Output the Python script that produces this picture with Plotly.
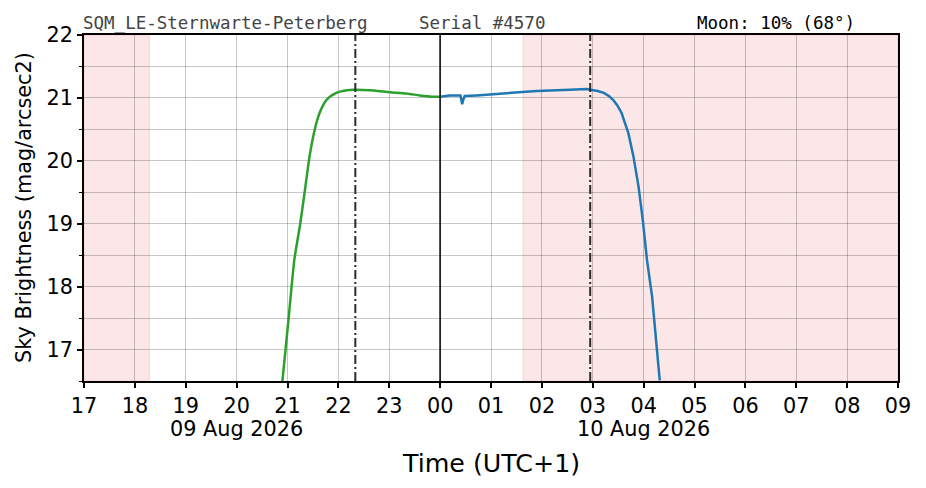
import plotly.graph_objects as go

# ---- data ----
green_time = ["2026-08-09 20:54", "2026-08-09 21:01", "2026-08-09 21:08", "2026-08-09 21:15",
              "2026-08-09 21:20", "2026-08-09 21:26", "2026-08-09 21:32", "2026-08-09 21:36",
              "2026-08-09 21:40", "2026-08-09 21:45", "2026-08-09 21:50", "2026-08-09 21:56",
              "2026-08-09 22:02", "2026-08-09 22:10", "2026-08-09 22:17", "2026-08-09 22:20",
              "2026-08-09 22:37", "2026-08-09 23:01", "2026-08-09 23:20", "2026-08-09 23:36",
              "2026-08-09 23:50", "2026-08-10 00:00"]
green_mag = [16.50, 17.45, 18.42, 19.00, 19.48, 20.07, 20.49, 20.69,
             20.83, 20.95, 21.02, 21.07, 21.10, 21.12, 21.13, 21.13,
             21.12, 21.09, 21.07, 21.04, 21.02, 21.02]

blue_time = ["2026-08-10 00:00", "2026-08-10 00:11", "2026-08-10 00:24", "2026-08-10 00:25",
             "2026-08-10 00:26", "2026-08-10 00:27", "2026-08-10 00:29", "2026-08-10 00:43",
             "2026-08-10 01:14", "2026-08-10 01:54", "2026-08-10 02:33", "2026-08-10 02:53",
             "2026-08-10 02:57", "2026-08-10 03:06", "2026-08-10 03:13", "2026-08-10 03:19",
             "2026-08-10 03:24", "2026-08-10 03:29", "2026-08-10 03:34", "2026-08-10 03:42",
             "2026-08-10 03:48", "2026-08-10 03:54", "2026-08-10 03:59", "2026-08-10 04:04",
             "2026-08-10 04:10", "2026-08-10 04:14", "2026-08-10 04:19"]
blue_mag = [21.02, 21.04, 21.04, 20.95, 20.90, 20.96, 21.03, 21.04,
            21.07, 21.11, 21.13, 21.14, 21.13, 21.11, 21.08, 21.03,
            20.97, 20.88, 20.76, 20.44, 20.07, 19.59, 19.06, 18.42,
            17.84, 17.26, 16.51]

daylight_spans = [("2026-08-09 17:00", "2026-08-09 18:17"),
                  ("2026-08-10 01:38", "2026-08-10 09:00")]
twilight_lines = ["2026-08-09 22:20", "2026-08-10 02:57"]
midnight = "2026-08-10 00:00"

hour_vals = ["2026-08-09 %02d:00" % h for h in range(17, 24)] + \
            ["2026-08-10 %02d:00" % h for h in range(0, 10)]
hour_text = ["%02d" % h for h in range(17, 24)] + ["%02d" % h for h in range(0, 10)]
date_labels = [("2026-08-09 20:00", "09 Aug 2026"), ("2026-08-10 04:00", "10 Aug 2026")]

x_range = ["2026-08-09 17:00", "2026-08-10 09:00"]
y_range = [16.5, 22]

header_station = "SQM_LE-Sternwarte-Peterberg"
header_serial = "Serial #4570"
header_moon = "Moon: 10% (68°)"

# ---- figure ----
fig = go.Figure()

shapes = []
for a, b in daylight_spans:
    shapes.append(dict(type="rect", xref="x", yref="paper", x0=a, x1=b, y0=0, y1=1,
                       fillcolor="rgba(240,160,160,0.25)",
                       line=dict(color="rgba(240,150,150,0.35)", width=1), layer="below"))
for t in twilight_lines:
    shapes.append(dict(type="line", xref="x", yref="paper", x0=t, x1=t, y0=0, y1=1,
                       line=dict(color="#2b2b2b", width=2, dash="9px,3px,2px,3px")))
shapes.append(dict(type="line", xref="x", yref="paper", x0=midnight, x1=midnight, y0=0, y1=1,
                   line=dict(color="#222222", width=1.8)))

fig.add_trace(go.Scatter(x=green_time, y=green_mag, mode="lines",
                         line=dict(color="#2ca02c", width=2.5, shape="spline", smoothing=0.5),
                         showlegend=False))
fig.add_trace(go.Scatter(x=blue_time, y=blue_mag, mode="lines",
                         line=dict(color="#1f77b4", width=2.5), showlegend=False))

FS = 20.8
annotations = []
for xv, txt in date_labels:
    annotations.append(dict(x=xv, xref="x", y=-0.139, yref="paper", text=txt, showarrow=False,
                            xanchor="center", yanchor="middle",
                            font=dict(family="DejaVu Sans", size=FS, color="black")))
annotations.append(dict(x=0.5, xref="paper", y=-0.237, yref="paper", text="Time (UTC+1)",
                        showarrow=False, xanchor="center", yanchor="middle",
                        font=dict(family="DejaVu Sans", size=25.3, color="black")))
annotations.append(dict(x=-0.0737, xref="paper", y=0.5, yref="paper",
                        text="Sky Brightness (mag/arcsec2)", textangle=-90, showarrow=False,
                        xanchor="center", yanchor="middle",
                        font=dict(family="DejaVu Sans", size=FS, color="black")))
mono = dict(family="DejaVu Sans Mono", size=17.5)
hy = 0.999
annotations.append(dict(x=(81 - 84) / 814, xref="paper", y=hy, yref="paper", text=header_station,
                        showarrow=False, xanchor="left", yanchor="bottom",
                        font=dict(color="#444444", **mono)))
annotations.append(dict(x=(417 - 84) / 814, xref="paper", y=hy, yref="paper", text=header_serial,
                        showarrow=False, xanchor="left", yanchor="bottom",
                        font=dict(color="#444444", **mono)))
annotations.append(dict(x=(695 - 84) / 814, xref="paper", y=hy, yref="paper", text=header_moon,
                        showarrow=False, xanchor="left", yanchor="bottom",
                        font=dict(color="black", **mono)))

grid_c = "rgba(0,0,0,0.22)"
fig.update_layout(
    width=918, height=480,
    margin=dict(l=76, r=28, t=27, b=107),
    paper_bgcolor="white", plot_bgcolor="white",
    shapes=shapes, annotations=annotations,
    font=dict(family="DejaVu Sans", size=FS, color="black"),
    xaxis=dict(type="date", range=x_range, tickmode="array", tickvals=hour_vals, ticktext=hour_text,
               ticks="outside", ticklen=5, tickwidth=1.5, tickcolor="black",
               showgrid=True, gridcolor=grid_c, gridwidth=1,
               showline=True, linecolor="black", linewidth=1.5, mirror=True,
               zeroline=False, tickfont=dict(size=FS, family="DejaVu Sans")),
    yaxis=dict(range=y_range, tickmode="linear", tick0=17, dtick=1,
               ticks="outside", ticklen=5, tickwidth=1.5, tickcolor="black",
               showgrid=True, gridcolor=grid_c, gridwidth=1,
               minor=dict(dtick=0.5, tick0=16.5, ticks="outside", ticklen=3, tickwidth=1,
                          tickcolor="black", showgrid=True, gridcolor=grid_c, gridwidth=1),
               showline=True, linecolor="black", linewidth=1.5, mirror=True,
               zeroline=False, tickfont=dict(size=FS, family="DejaVu Sans")),
)

fig.write_html("out.html")
